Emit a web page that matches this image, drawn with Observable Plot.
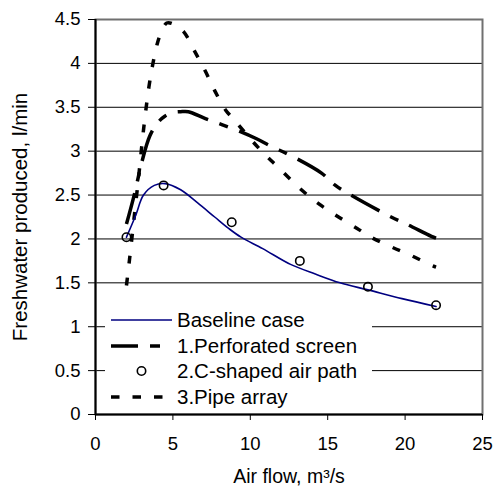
<!DOCTYPE html>
<html>
<head>
<meta charset="utf-8">
<script src="https://cdn.jsdelivr.net/npm/d3@7"></script>
<script src="https://cdn.jsdelivr.net/npm/@observablehq/plot@0.6"></script>
<style>
  html, body { margin: 0; padding: 0; background: #fff; }
  #wrap { position: relative; width: 493px; height: 490px; font-family: "Liberation Sans", Arial, sans-serif; }
  #legend { position: absolute; left: 105px; top: 306px; width: 267px; height: 102px; background: #fff; }
  .row { position: absolute; left: 0; height: 26px; display: flex; align-items: center; font-size: 20.5px; color: #000; white-space: nowrap; }
  .row svg { margin-left: 6px; margin-right: 5px; }
</style>
</head>
<body>
<div id="wrap"></div>
<script>
// ---- data ----
const xTicks = [0, 5, 10, 15, 20, 25];
const yTicks = [0, 0.5, 1, 1.5, 2, 2.5, 3, 3.5, 4, 4.5];
const xTitle = "Air flow, m³/s";
const yTitle = "Freshwater produced, l/min";
const seriesNames = ["Baseline case", "1.Perforated screen", "2.C-shaped air path", "3.Pipe array"];

const baselineX = [2, 2.6, 3.1, 3.8, 4.5, 5.5, 6.6, 7.7, 8.6, 9.4, 10.8, 12.6, 14.2, 15.8, 17.6, 19.8, 22];
const baselineY = [2.02, 2.27, 2.50, 2.61, 2.63, 2.56, 2.41, 2.25, 2.12, 2.02, 1.89, 1.71, 1.60, 1.50, 1.42, 1.32, 1.23];

const perforatedX = [2, 2.5, 3, 3.5, 4, 4.5, 5, 5.5, 6, 7.1, 8.2, 9.4, 10.3, 11.4, 12.5, 14.6, 15.5, 16.5, 19.1, 20.2, 21.7, 22];
const perforatedY = [2.17, 2.5, 2.88, 3.17, 3.32, 3.40, 3.44, 3.45, 3.45, 3.37, 3.30, 3.22, 3.15, 3.05, 2.96, 2.75, 2.61, 2.50, 2.25, 2.16, 2.03, 2.01];

const cShapedX = [2, 4.4, 8.8, 13.2, 17.6, 22];
const cShapedY = [2.02, 2.61, 2.19, 1.75, 1.455, 1.245];

const pipeX = [2, 2.2, 2.5, 2.8, 3.1, 3.45, 3.7, 4, 4.3, 4.6, 5, 5.7, 6.4, 7.1, 7.7, 8.4, 9, 10, 10.9, 11.9, 13.3, 14.5, 15.7, 16.9, 17.8, 19.1, 20.4, 21.7, 22];
const pipeY = [1.47, 1.77, 2.25, 2.73, 3.24, 3.73, 3.99, 4.23, 4.38, 4.46, 4.45, 4.36, 4.14, 3.91, 3.69, 3.47, 3.35, 3.14, 2.97, 2.80, 2.56, 2.39, 2.25, 2.12, 2.02, 1.91, 1.81, 1.70, 1.68];

// ---- build tables ----
const zip = (xs, ys) => xs.map((x, i) => ({x, y: ys[i]}));
const baseline = zip(baselineX, baselineY);
const perforated = zip(perforatedX, perforatedY);
const cShaped = zip(cShapedX, cShapedY);
const pipe = zip(pipeX, pipeY);

const navy = "#000080";
const perfDash = "32,12,9,12";
const pipeDash = "8,14";

const chart = Plot.plot({
  width: 493,
  height: 490,
  marginLeft: 95,
  marginRight: 11,
  marginTop: 19,
  marginBottom: 76,
  style: {fontFamily: "'Liberation Sans', Arial, sans-serif", fontSize: "18.5px", background: "#fff", color: "#000"},
  x: {domain: [0, 25]},
  y: {domain: [0, 4.5]},
  marks: [
    Plot.ruleY(yTicks.slice(1, -1), {stroke: "#000", strokeWidth: 1}),
    Plot.frame({stroke: "#707070", strokeWidth: 2}),
    Plot.ruleX([0], {stroke: "#000", strokeWidth: 2}),
    Plot.ruleY([0], {stroke: "#000", strokeWidth: 2}),
    Plot.axisX({ticks: xTicks, tickSize: 6, tickPadding: 16.5, tickFormat: d => String(d), label: null, fontSize: 18.5, stroke: "#000"}),
    Plot.axisY({ticks: yTicks, tickSize: 7, tickPadding: 8, tickFormat: d => String(d), label: null, fontSize: 18.5, stroke: "#000"}),
    Plot.line(pipe, {x: "x", y: "y", curve: "catmull-rom", stroke: "#000", strokeWidth: 3.5, strokeDasharray: pipeDash, strokeLinecap: "butt"}),
    Plot.line(perforated, {x: "x", y: "y", curve: "catmull-rom", stroke: "#000", strokeWidth: 3.5, strokeDasharray: perfDash, strokeLinecap: "butt"}),
    Plot.line(baseline, {x: "x", y: "y", curve: "catmull-rom", stroke: navy, strokeWidth: 1.6}),
    Plot.dot(cShaped, {x: "x", y: "y", r: 4.2, stroke: "#000", strokeWidth: 1.6, fill: "none"}),
    Plot.text([xTitle], {frameAnchor: "bottom", dy: 62.5, lineAnchor: "middle", textAnchor: "middle", fontSize: 19.5, fill: "#000"}),
    Plot.text([yTitle], {frameAnchor: "left", dx: -75, rotate: -90, lineAnchor: "middle", textAnchor: "middle", fontSize: 20.5, fill: "#000"})
  ]
});

const wrap = document.getElementById("wrap");
wrap.appendChild(chart);

// ---- legend (HTML overlay inside the plot area) ----
const legend = document.createElement("div");
legend.id = "legend";
const swatches = [
  `<line x1="0" x2="61" y1="6" y2="6" stroke="${navy}" stroke-width="1.6"/>`,
  `<line x1="0" x2="61" y1="6" y2="6" stroke="#000" stroke-width="3.5" stroke-dasharray="27,12,10,12"/>`,
  `<circle cx="30.5" cy="6" r="4.2" stroke="#000" stroke-width="1.6" fill="none"/>`,
  `<line x1="0" x2="61" y1="6" y2="6" stroke="#000" stroke-width="3.5" stroke-dasharray="8.5,13"/>`
];
seriesNames.forEach((name, i) => {
  const row = document.createElement("div");
  row.className = "row";
  row.style.top = (1 + i * 25.7) + "px";
  row.innerHTML = `<svg width="61" height="12">${swatches[i]}</svg><span>${name}</span>`;
  legend.appendChild(row);
});
wrap.appendChild(legend);
</script>
</body>
</html>
